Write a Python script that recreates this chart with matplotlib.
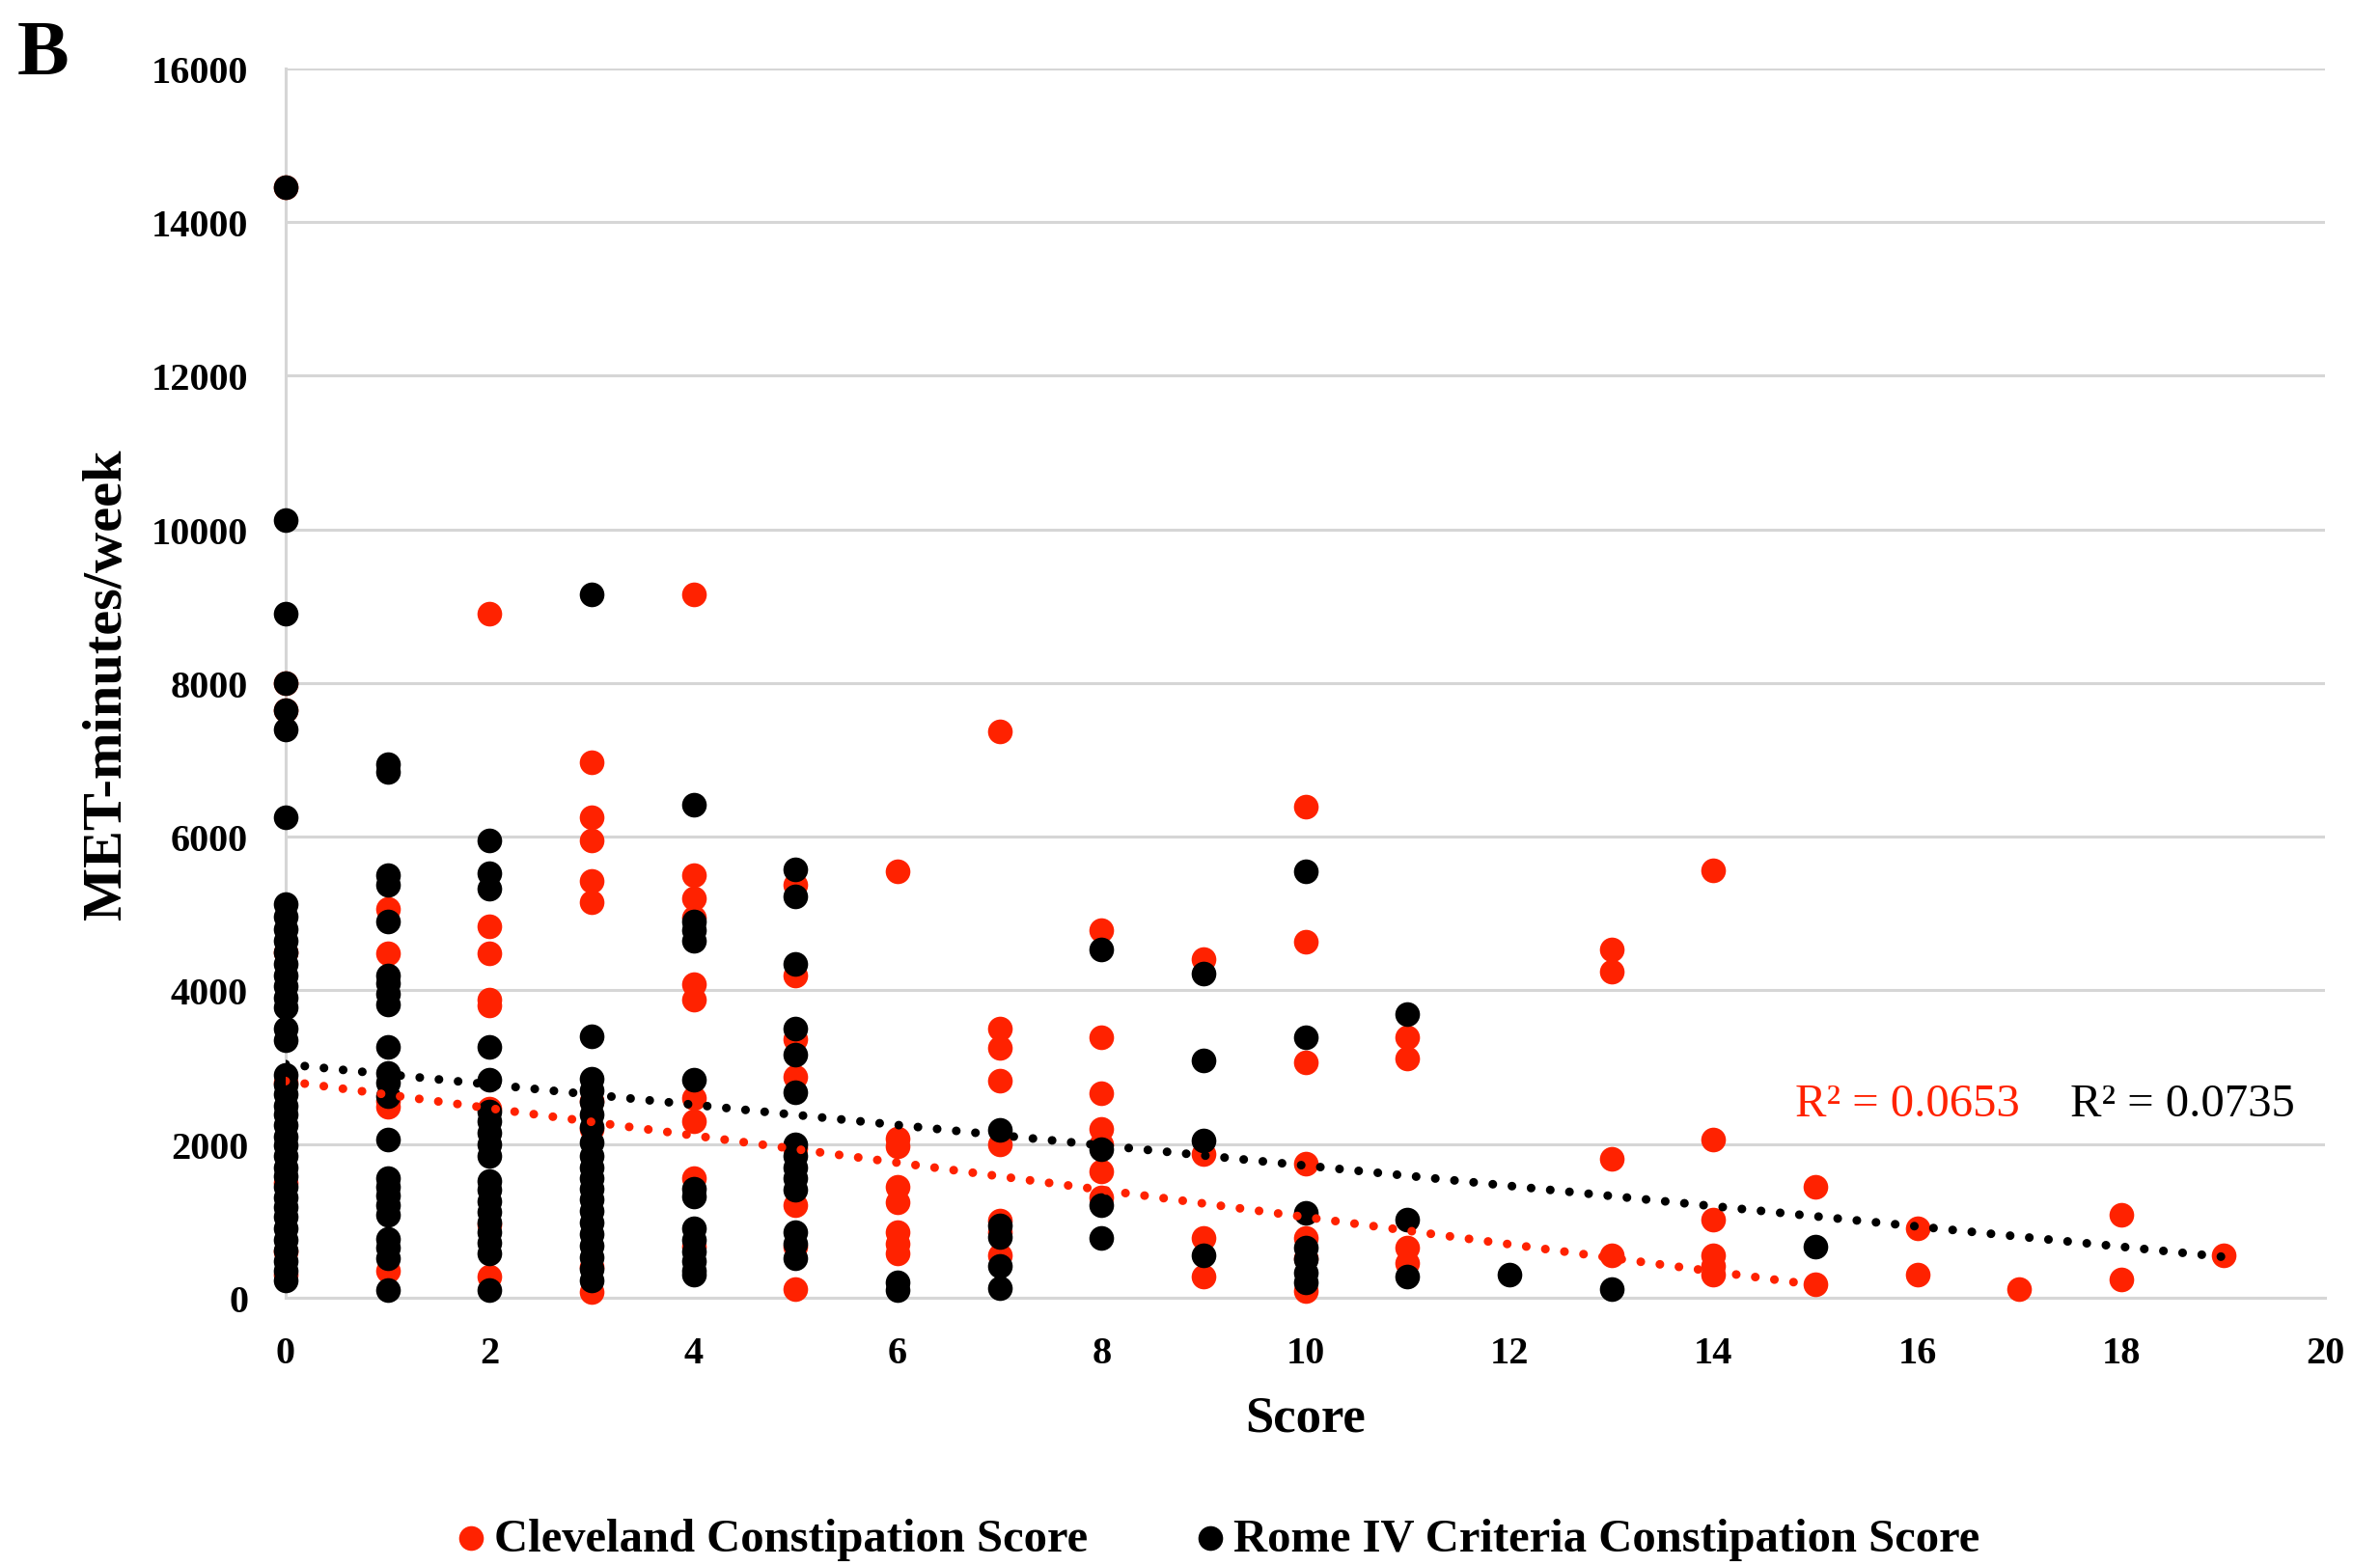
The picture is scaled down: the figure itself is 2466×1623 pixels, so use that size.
import matplotlib
matplotlib.use("Agg")
import matplotlib.pyplot as plt
import numpy as np

# Cleveland Constipation Score vs MET-minutes/week
cleveland_score = ([0] * 8 + [1] * 5 + [2] * 8 + [3] * 9 + [4] * 10 + [5] * 8 + [6] * 8 + [7] * 8
                   + [8] * 7 + [9] * 4 + [10] * 7 + [11] * 4 + [13] * 4 + [14] * 6 + [15] * 2
                   + [16] * 2 + [17] + [18] * 2 + [19])
cleveland_met = [
    14450, 8000, 7650, 4500, 2800, 1500, 600, 300,
    5060, 4480, 2560, 2480, 350,
    8900, 4840, 4480, 3880, 3800, 2460, 950, 270,
    6970, 6250, 5950, 5430, 5150, 2560, 2200, 400, 80,
    9150, 5500, 5200, 4950, 4080, 3880, 2600, 2300, 1560, 660,
    5380, 4200, 3360, 2870, 1940, 1200, 660, 110,
    5550, 2070, 1970, 1440, 1240, 850, 700, 580,
    7370, 3500, 3250, 2830, 2000, 1010, 850, 550,
    4790, 3390, 2660, 2200, 2000, 1640, 1300,
    4410, 1870, 780, 280,
    6390, 4640, 3070, 1740, 780, 520, 90,
    3390, 3120, 650, 450,
    4530, 4240, 1810, 550,
    5560, 2060, 1020, 550, 420, 300,
    1450, 170,
    900, 300,
    110,
    1080, 240,
    550,
]

# Rome IV Criteria Constipation Score vs MET-minutes/week
rome_score = ([0] * 40 + [1] * 23 + [2] * 19 + [3] * 20 + [4] * 13 + [5] * 14 + [6] * 2 + [7] * 5
              + [8] * 4 + [9] * 4 + [10] * 7 + [11] * 3 + [12] + [13] + [15])
rome_met = [
    14450, 10120, 8900, 8000, 7650, 7400, 6250, 5120, 4960, 4800,
    4650, 4500, 4350, 4200, 4050, 3900, 3780, 3500, 3350, 2900,
    2780, 2650, 2500, 2380, 2250, 2100, 1980, 1850, 1700, 1580,
    1450, 1300, 1180, 1050, 900, 750, 620, 480, 350, 220,
    6950, 6850, 5500, 5380, 4900, 4200, 4100, 3950, 3820, 3270,
    2930, 2800, 2620, 2060, 1560, 1450, 1330, 1200, 1080, 760, 650, 520, 100,
    5950, 5520, 5330, 3270, 2840, 2420, 2300, 2150, 2000, 1850,
    1520, 1400, 1260, 1120, 980, 850, 720, 580, 100,
    9150, 3400, 2850, 2700, 2550, 2380, 2220, 2020, 1850, 1700,
    1560, 1420, 1280, 1130, 980, 830, 680, 530, 380, 230,
    6420, 4900, 4780, 4650, 2840, 1420, 1320, 900, 750, 600, 480, 350, 300,
    5580, 5230, 4350, 3500, 3170, 2680, 2000, 1850, 1700, 1560, 1400, 850, 700, 520,
    200, 100,
    2180, 940, 790, 420, 130,
    4530, 1930, 1210, 780,
    4220, 3090, 2050, 550,
    5550, 3390, 1110, 650, 500, 330, 200,
    3690, 1020, 270,
    300,
    110,
    670,
]

# Linear trendlines: (slope, intercept, last score) and R² labels
red_trend = (-177.0, 2820.0, 15)
black_trend = (-132.0, 3040.0, 19)
red_r2 = "R² = 0.0653"
black_r2 = "R² = 0.0735"

x_ticks = list(range(0, 21, 2))
y_ticks = list(range(0, 16001, 2000))

RED = "#FF2200"
BLACK = "#000000"
GRID = "#D6D6D6"
SERIF = ["Liberation Serif", "DejaVu Serif"]

plt.rcParams["font.family"] = SERIF

fig = plt.figure(figsize=(24.66, 16.24), dpi=100)
ax = fig.add_axes([0.12, 0.1712, 0.857, 0.7845])

ax.scatter(cleveland_score, cleveland_met, s=340, color=RED, linewidths=0,
           zorder=3, clip_on=False, label="Cleveland Constipation Score")
ax.scatter(rome_score, rome_met, s=340, color=BLACK, linewidths=0,
           zorder=4, clip_on=False, label="Rome IV Criteria Constipation Score")

for (slope, icpt, xmax), col in ((red_trend, RED), (black_trend, BLACK)):
    xs = np.array([0.0, xmax])
    ax.plot(xs, icpt + slope * xs, color=col, lw=6.5, linestyle=(0, (0.01, 2.2)),
            dash_capstyle="round", zorder=5)

ax.text(14.8, 2530, red_r2, color=RED, fontsize=35, ha="left", va="center", zorder=6)
ax.text(17.5, 2530, black_r2, color=BLACK, fontsize=35, ha="left", va="center", zorder=6)

ax.set_xlim(0, 20)
ax.set_ylim(0, 16000)
ax.set_xticks(x_ticks)
ax.set_yticks(y_ticks)
ax.set_xticklabels([str(v) for v in x_ticks], fontsize=29, fontweight="bold")
ax.set_yticklabels([str(v) for v in y_ticks], fontsize=29, fontweight="bold")
ax.tick_params(axis="both", length=0)
ax.tick_params(axis="y", pad=28)
ax.tick_params(axis="x", pad=28)

ax.grid(axis="y", color=GRID, lw=2.2, zorder=0)
ax.set_axisbelow(True)
for side in ("top", "right"):
    ax.spines[side].set_visible(False)
for side in ("left", "bottom"):
    ax.spines[side].set_color(GRID)
    ax.spines[side].set_linewidth(2.2)

ax.set_xlabel("Score", fontsize=38, fontweight="bold", labelpad=18)
ax.set_ylabel("MET-minutes/week", fontsize=42, fontweight="bold", labelpad=14)

fig.text(0.007, 0.987, "B", fontsize=58, fontweight="bold", ha="left", va="top")

leg = fig.legend(loc="center", bbox_to_anchor=(0.509, 0.0175), ncol=2, frameon=False,
                 prop={"size": 35, "weight": "bold"}, markerscale=1.0,
                 handletextpad=-0.1, columnspacing=2.0, handlelength=1.2)

fig.savefig("out.png", dpi=100, facecolor="white")
